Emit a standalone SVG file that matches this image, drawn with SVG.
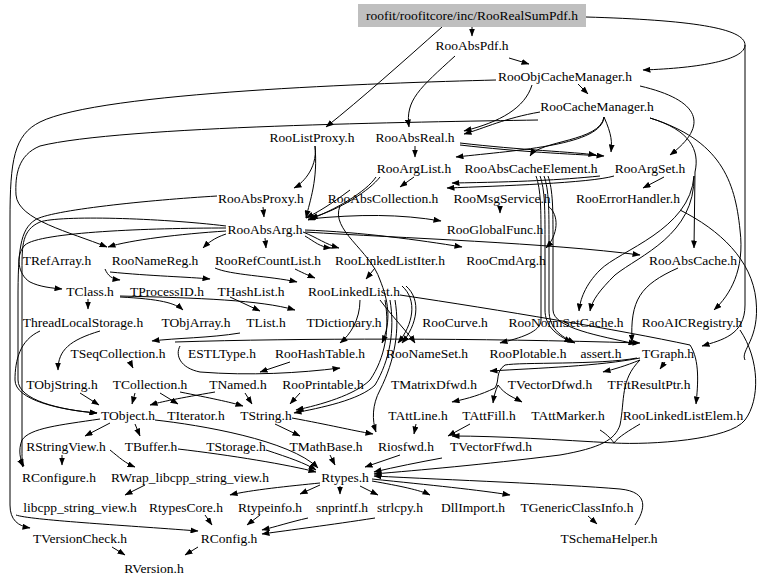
<svg xmlns="http://www.w3.org/2000/svg" width="768" height="584" viewBox="0 0 768 584" font-family="'Liberation Serif', 'Times New Roman', serif">
<defs>
<marker id="a" markerWidth="8" markerHeight="6" refX="7.5" refY="3" orient="auto" markerUnits="userSpaceOnUse"><path d="M0,0 L8,3 L0,6 z" fill="#000"/></marker>
</defs>
<style>
text{font-family:'Liberation Serif','Times New Roman',serif;font-size:13.5px;text-anchor:middle;fill:#000}
.e path{fill:none;stroke:#000;stroke-width:1;marker-end:url(#a)}
.e path.n{marker-end:none}
</style>
<rect width="768" height="584" fill="#fff"/>
<g class="e" id="edges">
<path d="M472,27 L472,36"/>
<path d="M442,27 C405,60 360,100 326,127"/>
<path d="M586,17 C690,20 745,28 745,45 C745,60 700,68 643,70"/>
<path d="M745,45 L745,305 C745,335 722,340 702,346"/>
<path d="M455,56 C420,88 405,100 409,127"/>
<path d="M509,58 L529,64"/>
<path d="M578,84 L588,94"/>
<path d="M532,85 C525,108 500,122 464,131"/>
<path d="M640,86 C700,100 710,125 670,155"/>
<path d="M496,80 C380,83 100,92 40,122 C14,135 10,160 10,220 L10,505 C10,520 18,526 30,528"/>
<path d="M538,120 C420,122 120,126 40,146 C18,155 15,175 16,195 C18,220 70,232 107,247"/>
<path d="M540,112 C505,118 485,128 464,134"/>
<path d="M604,117 C612,135 612,142 611,152"/>
<path d="M604,117 C600,142 540,140 530,156"/>
<path d="M604,117 C602,145 520,150 456,157"/>
<path d="M650,118 C690,130 700,150 695,172 L694,248"/>
<path d="M664,177 L643,188"/>
<path d="M460,143 C520,150 575,152 596,155"/>
<path d="M460,145 C520,152 570,154 604,156"/>
<path d="M415,146 L415,157"/>
<path d="M414,177 L400,187"/>
<path d="M614,176 C590,183 500,186 447,188"/>
<path d="M600,176 C560,180 520,182 452,183"/>
<path d="M380,177 C370,190 340,210 310,218"/>
<path d="M376,177 C366,192 335,210 308,220"/>
<path d="M350,190 C330,205 318,212 306,218"/>
<path d="M315,146 C318,170 300,185 294,188"/>
<path d="M315,146 C318,180 310,200 306,218"/>
<path d="M263,207 L264,217"/>
<path d="M226,231 C180,234 130,240 108,247"/>
<path d="M265,238 L266,248"/>
<path d="M226,234 C214,238 208,243 203,248"/>
<path d="M226,228 C150,228 40,232 25,245 C15,255 18,275 30,282 C40,287 52,288 62,289"/>
<path d="M217,196 C150,200 50,210 35,220 C20,230 18,250 18,300 L18,380 C18,400 60,410 97,413"/>
<path d="M226,226 C160,218 60,215 40,222 C22,230 22,245 22,270 L22,450 C22,460 22,464 23,467"/>
<path d="M305,236 C315,242 320,247 331,248"/>
<path d="M303,232 C318,238 325,244 339,248"/>
<path d="M308,219 C360,214 400,214 441,221"/>
<path d="M500,206 L500,213"/>
<path d="M548,206 C560,215 558,235 546,248"/>
<path d="M305,232 C400,238 550,243 640,255"/>
<path d="M305,230 C360,232 420,240 462,247"/>
<path d="M694,176 C690,230 620,250 600,270 C585,285 580,300 579,311"/>
<path d="M694,176 C695,235 640,255 615,275 C600,290 592,300 590,311"/>
<path class="n" d="M680,210 C720,230 752,260 756,300 C760,340 740,350 745,360"/>
<path d="M650,118 C720,140 735,180 740,230 C745,270 730,295 714,310"/>
<path d="M678,268 C640,285 630,300 632,342"/>
<path d="M536,176 C541,190 541,210 541,240 L541,320 C541,332 520,338 500,343"/>
<path d="M540,176 C545,190 545,210 545,240 L545,310 C545,325 555,335 572,342"/>
<path d="M544,176 C549,190 549,210 549,240 L549,310 C549,328 560,336 575,343"/>
<path d="M548,176 C553,190 553,210 553,240 L553,310 C553,328 600,336 636,344"/>
<path d="M340,206 C330,230 370,250 380,280 C388,300 392,320 382,343"/>
<path d="M360,300 C360,320 350,335 340,343"/>
<path d="M380,300 C395,320 410,335 415,343"/>
<path d="M400,295 C500,310 620,330 690,345 C700,360 698,385 696,404"/>
<path d="M375,268 L366,279"/>
<path d="M295,269 C305,274 310,276 315,278"/>
<path d="M215,268 C230,275 270,276 297,282"/>
<path d="M105,269 C108,276 112,279 120,280"/>
<path d="M110,272 C150,276 190,277 210,279"/>
<path d="M88,299 L88,309"/>
<path d="M120,297 C160,299 175,303 183,310"/>
<path d="M230,297 L260,311"/>
<path d="M120,296 C200,298 260,300 295,310"/>
<path d="M240,333 C210,338 175,338 152,341"/>
<path d="M40,331 C20,340 15,360 15,380 C15,400 60,410 97,413"/>
<path d="M100,331 C70,340 58,350 58,370"/>
<path d="M130,362 L133,368"/>
<path d="M80,393 L99,405"/>
<path d="M135,393 L132,404"/>
<path d="M160,393 L178,404"/>
<path d="M180,392 C210,398 230,402 243,406"/>
<path d="M215,392 C180,398 160,402 150,405"/>
<path d="M245,393 L252,404"/>
<path d="M300,393 L290,404"/>
<path d="M290,362 L260,372"/>
<path d="M175,342 C300,338 480,338 640,343"/>
<path d="M180,346 C175,355 180,368 200,372 C250,376 300,373 340,368"/>
<path d="M395,300 C400,330 395,360 380,390 C372,405 372,420 376,432"/>
<path d="M390,300 C395,330 390,360 375,385 C360,400 320,408 294,413"/>
<path d="M385,300 C390,330 385,358 370,380 C355,395 320,405 296,410"/>
<path d="M402,286 C418,300 413,325 398,343"/>
<path d="M406,286 C422,300 417,325 402,343"/>
<path d="M155,420 C200,425 290,440 318,468"/>
<path d="M110,423 L85,436"/>
<path d="M135,424 L140,436"/>
<path d="M275,424 L300,436"/>
<path d="M292,418 C330,425 350,430 373,434"/>
<path d="M100,419 C60,425 30,428 22,440 C18,450 20,460 24,466"/>
<path d="M62,455 L62,465"/>
<path d="M110,450 C120,458 125,463 135,467"/>
<path d="M178,449 C230,455 290,465 316,472"/>
<path d="M266,450 C290,458 305,463 316,470"/>
<path d="M330,455 L335,465"/>
<path d="M400,455 L365,467"/>
<path d="M442,458 C420,462 395,467 374,472"/>
<path d="M145,485 L125,495"/>
<path d="M320,483 C290,486 250,490 230,495"/>
<path d="M320,485 L300,494"/>
<path d="M340,486 L340,494"/>
<path d="M360,486 L378,495"/>
<path d="M372,481 C400,486 420,490 430,495"/>
<path d="M372,479 C430,485 480,490 510,495"/>
<path d="M635,525 C645,510 650,492 620,489 C560,484 450,480 374,476"/>
<path d="M588,516 L597,524"/>
<path d="M205,515 L212,525"/>
<path d="M260,515 L247,525"/>
<path d="M308,518 C290,522 275,527 262,530"/>
<path d="M375,518 C330,525 290,530 262,534"/>
<path d="M112,547 L125,555"/>
<path d="M198,547 L185,555"/>
<path d="M16,515 C30,520 120,525 198,531"/>
<path d="M640,360 C620,380 625,400 620,425 C615,440 600,448 560,455 C480,465 420,470 374,474"/>
<path class="n" d="M640,424 C630,430 618,437 614,443"/>
<path class="n" d="M740,330 C760,360 760,400 745,420 C730,440 650,445 614,443"/>
<path class="n" d="M600,430 C608,435 612,440 614,443"/>
<path d="M637,358 C600,365 520,362 505,365 C495,372 500,380 495,388 C480,395 470,398 452,402"/>
<path d="M498,385 C495,392 494,396 493,403"/>
<path d="M498,385 C505,395 515,398 522,402"/>
<path d="M640,358 C600,366 540,368 490,371"/>
<path d="M640,360 C625,366 615,369 603,372"/>
<path d="M665,362 L660,369"/>
<path d="M416,424 L414,434"/>
<path d="M470,424 L448,436"/>
<path d="M614,443 C560,440 500,436 452,436"/>
</g>
<g id="n0"><rect x="358" y="4" width="228" height="23" fill="#bfbfbf"/><text x="472" y="20">roofit/roofitcore/inc/RooRealSumPdf.h</text></g>
<g id="n1"><text x="472" y="50">RooAbsPdf.h</text></g>
<g id="n2"><text x="565" y="81">RooObjCacheManager.h</text></g>
<g id="n3"><text x="597" y="111">RooCacheManager.h</text></g>
<g id="n4"><text x="312" y="142">RooListProxy.h</text></g>
<g id="n5"><text x="415" y="142">RooAbsReal.h</text></g>
<g id="n6"><text x="414" y="173">RooArgList.h</text></g>
<g id="n7"><text x="531" y="173">RooAbsCacheElement.h</text></g>
<g id="n8"><text x="650" y="173">RooArgSet.h</text></g>
<g id="n9"><text x="261" y="203">RooAbsProxy.h</text></g>
<g id="n10"><text x="383" y="203">RooAbsCollection.h</text></g>
<g id="n11"><text x="502" y="203">RooMsgService.h</text></g>
<g id="n12"><text x="628" y="203">RooErrorHandler.h</text></g>
<g id="n13"><text x="265" y="234">RooAbsArg.h</text></g>
<g id="n14"><text x="495" y="234">RooGlobalFunc.h</text></g>
<g id="n15"><text x="57" y="265">TRefArray.h</text></g>
<g id="n16"><text x="155" y="265">RooNameReg.h</text></g>
<g id="n17"><text x="268" y="265">RooRefCountList.h</text></g>
<g id="n18"><text x="390" y="265">RooLinkedListIter.h</text></g>
<g id="n19"><text x="506" y="265">RooCmdArg.h</text></g>
<g id="n20"><text x="693" y="265">RooAbsCache.h</text></g>
<g id="n21"><text x="90" y="296">TClass.h</text></g>
<g id="n22"><text x="167" y="296">TProcessID.h</text></g>
<g id="n23"><text x="251" y="296">THashList.h</text></g>
<g id="n24"><text x="354" y="296">RooLinkedList.h</text></g>
<g id="n25"><text x="83" y="327">ThreadLocalStorage.h</text></g>
<g id="n26"><text x="196" y="327">TObjArray.h</text></g>
<g id="n27"><text x="266" y="327">TList.h</text></g>
<g id="n28"><text x="344" y="327">TDictionary.h</text></g>
<g id="n29"><text x="455" y="327">RooCurve.h</text></g>
<g id="n30"><text x="566" y="327">RooNormSetCache.h</text></g>
<g id="n31"><text x="692" y="327">RooAICRegistry.h</text></g>
<g id="n32"><text x="118" y="358">TSeqCollection.h</text></g>
<g id="n33"><text x="222" y="358">ESTLType.h</text></g>
<g id="n34"><text x="320" y="358">RooHashTable.h</text></g>
<g id="n35"><text x="427" y="358">RooNameSet.h</text></g>
<g id="n36"><text x="528" y="358">RooPlotable.h</text></g>
<g id="n37"><text x="601" y="358">assert.h</text></g>
<g id="n38"><text x="668" y="358">TGraph.h</text></g>
<g id="n39"><text x="62" y="389">TObjString.h</text></g>
<g id="n40"><text x="150" y="389">TCollection.h</text></g>
<g id="n41"><text x="238" y="389">TNamed.h</text></g>
<g id="n42"><text x="323" y="389">RooPrintable.h</text></g>
<g id="n43"><text x="434" y="389">TMatrixDfwd.h</text></g>
<g id="n44"><text x="550" y="389">TVectorDfwd.h</text></g>
<g id="n45"><text x="649" y="389">TFitResultPtr.h</text></g>
<g id="n46"><text x="128" y="420">TObject.h</text></g>
<g id="n47"><text x="196" y="420">TIterator.h</text></g>
<g id="n48"><text x="266" y="420">TString.h</text></g>
<g id="n49"><text x="418" y="420">TAttLine.h</text></g>
<g id="n50"><text x="489" y="420">TAttFill.h</text></g>
<g id="n51"><text x="568" y="420">TAttMarker.h</text></g>
<g id="n52"><text x="683" y="420">RooLinkedListElem.h</text></g>
<g id="n53"><text x="66" y="451">RStringView.h</text></g>
<g id="n54"><text x="151" y="451">TBuffer.h</text></g>
<g id="n55"><text x="236" y="451">TStorage.h</text></g>
<g id="n56"><text x="326" y="451">TMathBase.h</text></g>
<g id="n57"><text x="406" y="451">Riosfwd.h</text></g>
<g id="n58"><text x="491" y="451">TVectorFfwd.h</text></g>
<g id="n59"><text x="59" y="482">RConfigure.h</text></g>
<g id="n60"><text x="190" y="482">RWrap_libcpp_string_view.h</text></g>
<g id="n61"><text x="345" y="482">Rtypes.h</text></g>
<g id="n62"><text x="80" y="512">libcpp_string_view.h</text></g>
<g id="n63"><text x="186" y="512">RtypesCore.h</text></g>
<g id="n64"><text x="270" y="512">Rtypeinfo.h</text></g>
<g id="n65"><text x="342" y="512">snprintf.h</text></g>
<g id="n66"><text x="400" y="512">strlcpy.h</text></g>
<g id="n67"><text x="473" y="512">DllImport.h</text></g>
<g id="n68"><text x="577" y="512">TGenericClassInfo.h</text></g>
<g id="n69"><text x="80" y="543">TVersionCheck.h</text></g>
<g id="n70"><text x="229" y="543">RConfig.h</text></g>
<g id="n71"><text x="609" y="543">TSchemaHelper.h</text></g>
<g id="n72"><text x="154" y="573">RVersion.h</text></g>
</svg>
